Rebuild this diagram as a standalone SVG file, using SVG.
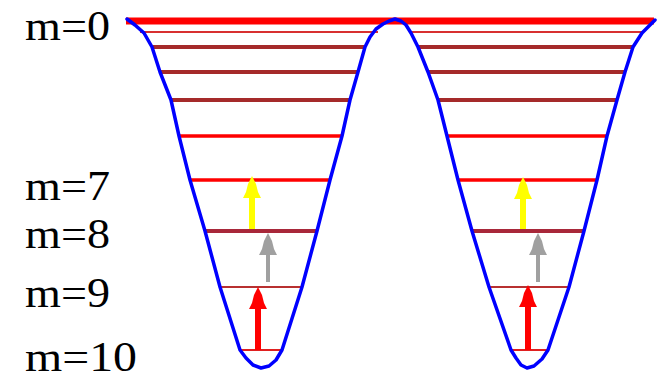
<svg xmlns="http://www.w3.org/2000/svg" width="659" height="379" viewBox="0 0 659 379">
<style>
.lbl{font-family:"Liberation Serif","Times New Roman",serif;font-size:42px;fill:#000}
.curve{fill:none;stroke:#0000ff;stroke-width:3.5;stroke-linejoin:round;stroke-linecap:round}
.thick{stroke:#ff0000;stroke-width:7}
.thin1{stroke:#d83030;stroke-width:2}
.brown{stroke:#a52a2a;stroke-width:4}
.red{stroke:#ff0000;stroke-width:3.5}
.brown2{stroke:#a8283a;stroke-width:4}
.thinb{stroke:#b83030;stroke-width:2}
.thinr{stroke:#e02020;stroke-width:2}
</style>
<defs>
<path id="ahead" d="M0,0 L-4,8 L-6,16 L-9,22 L9,22 L6,16 L4,8 Z"/>
</defs>
<rect width="659" height="379" fill="#ffffff"/>
<g id="levels">
<line class="thick" x1="126" y1="21" x2="654" y2="21"/>
<line class="thin1" x1="140" y1="32" x2="378" y2="32"/>
<line class="thin1" x1="409" y1="32" x2="644" y2="32"/>
<line class="brown" x1="153" y1="47" x2="365" y2="47"/>
<line class="brown" x1="418" y1="47" x2="633" y2="47"/>
<line class="brown" x1="161" y1="72" x2="358" y2="72"/>
<line class="brown" x1="428" y1="72" x2="625" y2="72"/>
<line class="brown" x1="172" y1="100" x2="350" y2="100"/>
<line class="brown" x1="438" y1="100" x2="617" y2="100"/>
<line class="red" x1="179" y1="136" x2="342" y2="136"/>
<line class="red" x1="447" y1="136" x2="607" y2="136"/>
<line class="red" x1="190" y1="180" x2="330" y2="180"/>
<line class="red" x1="458" y1="180" x2="597" y2="180"/>
<line class="brown2" x1="206" y1="231" x2="317" y2="231"/>
<line class="brown2" x1="472" y1="231" x2="584" y2="231"/>
<line class="thinb" x1="221" y1="287" x2="302" y2="287"/>
<line class="thinb" x1="489" y1="287" x2="569" y2="287"/>
<line class="thinr" x1="240" y1="350" x2="281" y2="350"/>
<line class="thinr" x1="511" y1="350" x2="548" y2="350"/>
</g>
<g id="potential">
<polyline class="curve" points="127,19 135,25 144,33 152,47 160,72 171,100 179,136 190,180 205,231 220,287 240,350 246,358 253,365 261,368 269,366 276,360 282,350 302,287 317,231 330,180 342,136 350,100 358,72 365,47 370,37 376,29 383,24 389,21 395,19 401,21 406,25 411,33 418,47 428,72 438,100 447,136 458,180 472,231 489,287 511,350 516,358 521,365 527,368 534,366 542,359 548,350 569,287 584,231 597,180 607,136 617,100 625,72 633,47 642,33 655,20"/>
</g>
<g id="arrows">
<g fill="#ffff00">
<rect x="249" y="196" width="6" height="33"/>
<use href="#ahead" transform="translate(252,176)"/>
<rect x="520" y="198" width="6" height="31"/>
<use href="#ahead" transform="translate(523,177)"/>
</g>
<g fill="#a0a0a0">
<rect x="266" y="252" width="4" height="30"/>
<use href="#ahead" transform="translate(268,233)"/>
<rect x="536" y="252" width="4" height="30"/>
<use href="#ahead" transform="translate(538,233)"/>
</g>
<g fill="#ff0000">
<rect x="255" y="305" width="6" height="45"/>
<use href="#ahead" transform="translate(258,287)"/>
<rect x="525" y="305" width="6" height="45"/>
<use href="#ahead" transform="translate(528,285)"/>
</g>
</g>
<g id="labels">
<text class="lbl" x="25" y="40" textLength="85" lengthAdjust="spacingAndGlyphs">m=0</text>
<text class="lbl" x="25" y="200" textLength="85" lengthAdjust="spacingAndGlyphs">m=7</text>
<text class="lbl" x="25" y="248" textLength="85" lengthAdjust="spacingAndGlyphs">m=8</text>
<text class="lbl" x="25" y="307" textLength="85" lengthAdjust="spacingAndGlyphs">m=9</text>
<text class="lbl" x="25" y="371" textLength="112" lengthAdjust="spacingAndGlyphs">m=10</text>
</g>
</svg>
